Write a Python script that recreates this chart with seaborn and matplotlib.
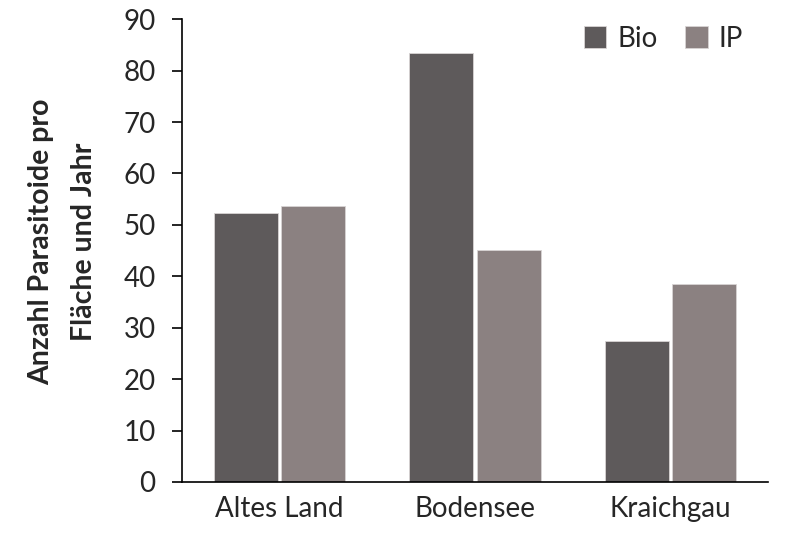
import numpy as np
import pandas as pd
import seaborn as sns
import matplotlib.pyplot as plt

regions = ["Altes Land", "Bodensee", "Kraichgau"]
bio = [52.3, 83.5, 27.5]
ip = [53.6, 45.2, 38.5]

data = pd.DataFrame({
    "Region": regions * 2,
    "Anzahl": bio + ip,
    "System": ["Bio"] * 3 + ["IP"] * 3,
})

sns.set_theme(style="white")
plt.rcParams["font.family"] = ["Lato", "DejaVu Sans"]

fig = plt.figure(figsize=(8, 5.33), dpi=100)
ax = fig.add_axes([0.2275, 0.0957, 0.7325, 0.8683])

sns.barplot(
    data=data, x="Region", y="Anzahl", hue="System",
    palette={"Bio": "#5e5a5b", "IP": "#8b8181"},
    width=0.69, gap=0.05, saturation=1, ax=ax,
    edgecolor="#d8d4d4", linewidth=0.6,
)

ax.set_xlim(-0.5, 2.5)
ax.set_ylim(0, 90)
ax.set_yticks(np.arange(0, 91, 10))
ax.tick_params(axis="y", labelsize=20, length=7, width=1.2, color="black",
               direction="out", left=True, pad=12)
ax.tick_params(axis="x", labelsize=20, length=0, pad=10)
for side in ["top", "right"]:
    ax.spines[side].set_visible(False)
for side in ["left", "bottom"]:
    ax.spines[side].set_color("black")
    ax.spines[side].set_linewidth(1.2)

ax.set_xlabel("")
ax.set_ylabel("Anzahl Parasitoide pro\nFläche und Jahr", fontsize=20.5,
              fontweight="bold", linespacing=1.8)
ax.yaxis.set_label_coords(-0.145, 0.52)

ax.legend(title=None, ncol=2, frameon=False, fontsize=20,
          loc="upper right", bbox_to_anchor=(1.0, 1.04),
          handlelength=0.8, handleheight=0.8, columnspacing=1.0,
          handletextpad=0.4)

fig.savefig("out.png", dpi=100)
